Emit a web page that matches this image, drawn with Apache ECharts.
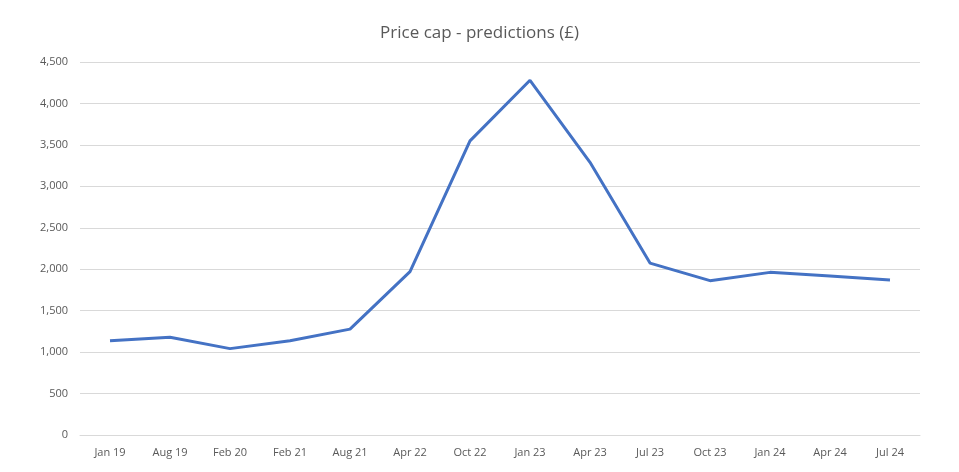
<!DOCTYPE html>
<html lang="en">
<head>
    <meta charset="UTF-8">
    <title>Price cap - predictions</title>
    <script src="https://cdn.jsdelivr.net/npm/echarts@6/dist/echarts.min.js"></script>
    <style>
        html, body { margin: 0; padding: 0; background: #fff; }
        #main { width: 959px; height: 472px; }
    </style>
</head>
<body>
<div id="main"></div>
<script type="text/javascript">
    // data
    var months = ['Jan 19', 'Aug 19', 'Feb 20', 'Feb 21', 'Aug 21', 'Apr 22', 'Oct 22',
        'Jan 23', 'Apr 23', 'Jul 23', 'Oct 23', 'Jan 24', 'Apr 24', 'Jul 24'];
    var priceCap = [1137, 1179, 1042, 1138, 1277, 1971, 3549,
        4279, 3290, 2074, 1862, 1962, 1918, 1870];
    var yTicks = { min: 0, max: 4500, step: 500 };

    var myChart = echarts.init(document.getElementById('main'));

    var option = {
        backgroundColor: '#ffffff',
        textStyle: { fontFamily: 'Open Sans' },
        title: {
            text: 'Price cap - predictions (£)',
            left: 'center',
            top: 20,
            textStyle: { color: '#595959', fontSize: 17, fontWeight: 'normal', fontFamily: 'Open Sans' }
        },
        grid: { left: 80, right: 39, top: 62, bottom: 37 },
        xAxis: {
            type: 'category',
            data: months,
            boundaryGap: true,
            axisLine: { lineStyle: { color: '#d9d9d9' } },
            axisTick: { show: false },
            axisLabel: { color: '#595959', fontSize: 11, margin: 12 }
        },
        yAxis: {
            type: 'value',
            min: yTicks.min,
            max: yTicks.max,
            interval: yTicks.step,
            axisLine: { show: false },
            axisTick: { show: false },
            splitLine: { lineStyle: { color: '#d9d9d9' } },
            axisLabel: {
                color: '#595959',
                fontSize: 11,
                margin: 12,
                formatter: function (v) { return v.toLocaleString('en-GB'); }
            }
        },
        series: [{
            name: 'Price cap',
            type: 'line',
            data: priceCap,
            symbol: 'none',
            lineStyle: { color: '#4472C4', width: 3 },
            itemStyle: { color: '#4472C4' }
        }]
    };

    myChart.setOption(option);
</script>
</body>
</html>
